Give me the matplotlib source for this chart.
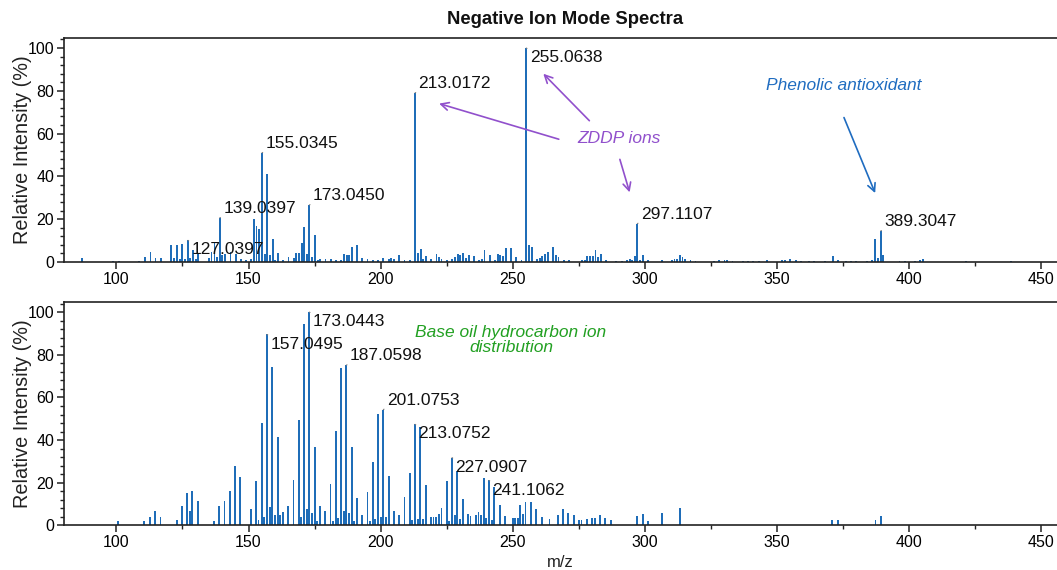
import numpy as np
import matplotlib
matplotlib.use("Agg")
import matplotlib.pyplot as plt
from matplotlib.ticker import MultipleLocator

# --- dati ---
top_mz = [87.0, 98.7, 100.9, 108.7, 110.8, 112.9, 114.8, 116.8, 120.8, 121.9,
          122.8, 124.0, 124.9, 126.0, 127.1, 128.0, 129.0, 130.0, 131.0, 135.0,
          136.0, 137.1, 138.1, 139.1, 140.1, 141.1, 143.2, 145.2, 147.1, 149.0,
          151.0, 152.2, 153.0, 154.0, 155.1, 156.1, 157.1, 158.1, 159.1, 160.1,
          161.1, 163.2, 165.1, 167.1, 168.1, 169.1, 170.1, 171.1, 172.2, 173.0,
          174.0, 175.2, 176.2, 177.1, 179.1, 181.1, 183.2, 185.1, 186.1, 187.1,
          188.0, 189.0, 191.0, 193.0, 195.0, 197.1, 199.0, 201.0, 203.0, 204.0,
          205.1, 207.0, 209.0, 211.0, 213.0, 214.0, 215.1, 216.1, 217.1, 219.1,
          221.1, 222.2, 223.0, 225.0, 227.0, 228.0, 229.1, 230.1, 231.2, 232.3,
          233.4, 235.4, 237.3, 238.3, 239.3, 241.3, 243.3, 244.3, 245.3, 246.3,
          247.4, 249.2, 251.3, 253.3, 255.1, 256.2, 257.2, 259.2, 260.2, 261.2,
          262.2, 263.2, 265.3, 266.3, 267.3, 269.3, 271.3, 276.2, 277.2, 278.2,
          279.3, 280.3, 281.3, 282.3, 283.3, 285.2, 289.2, 291.2, 293.3, 294.3,
          295.1, 296.2, 297.1, 298.2, 299.2, 301.2, 306.6, 310.2, 311.2, 312.2,
          313.2, 314.2, 315.2, 317.2, 319.1, 326.0, 328.0, 330.1, 331.1, 333.1,
          337.0, 339.0, 341.0, 343.0, 346.1, 352.0, 353.0, 355.0, 357.0, 359.0,
          362.0, 364.0, 368.0, 371.0, 373.0, 376.1, 378.0, 380.0, 383.9, 385.9,
          387.1, 388.1, 389.2, 390.2, 396.3, 398.3, 402.3, 404.2, 405.2, 421.6,
          438.6]
top_int = [2.0, 0.5, 0.6, 0.6, 2.3, 4.7, 1.9, 1.9, 7.8, 2.0,
           8.1, 1.2, 8.6, 1.5, 10.1, 2.0, 5.8, 1.5, 3.6, 2.0,
           4.7, 9.3, 2.3, 20.6, 3.1, 3.9, 4.7, 3.9, 1.6, 1.1,
           1.6, 20.2, 16.7, 15.3, 51.0, 3.9, 41.0, 3.1, 10.9, 1.1,
           4.4, 1.1, 2.3, 2.0, 4.0, 4.0, 8.9, 16.4, 3.9, 26.6,
           2.3, 12.8, 1.1, 1.6, 1.6, 1.6, 1.1, 1.1, 3.6, 3.1,
           3.4, 7.0, 8.1, 2.0, 1.2, 0.9, 0.8, 2.0, 1.6, 2.0,
           1.2, 3.4, 1.1, 1.1, 79.0, 4.2, 6.2, 1.6, 2.6, 1.6,
           3.9, 2.3, 1.6, 1.1, 1.6, 2.3, 3.9, 3.1, 4.2, 2.0,
           3.1, 2.6, 1.1, 1.6, 5.8, 3.1, 0.8, 3.9, 3.1, 2.6,
           6.7, 6.7, 2.3, 1.1, 100.0, 8.1, 7.0, 1.6, 2.0, 2.6,
           3.6, 4.7, 7.0, 3.1, 2.3, 1.1, 0.8, 0.8, 0.8, 2.6,
           2.6, 2.6, 5.8, 2.3, 3.9, 1.1, 0.5, 0.5, 0.8, 1.6,
           1.1, 2.6, 17.9, 1.1, 3.1, 1.1, 1.1, 0.8, 1.6, 1.6,
           3.1, 2.3, 1.6, 0.8, 0.5, 0.5, 0.8, 1.1, 1.1, 0.5,
           0.5, 0.5, 0.5, 0.5, 0.8, 0.8, 0.8, 1.4, 0.8, 0.6,
           0.6, 0.6, 0.6, 2.6, 1.1, 0.5, 0.6, 0.6, 0.6, 1.1,
           10.9, 2.0, 14.5, 3.1, 0.5, 0.3, 0.6, 0.9, 1.2, 0.4,
           0.4]

bot_mz = [100.6, 110.6, 112.6, 114.6, 116.7, 122.8, 124.8, 126.8, 127.7, 128.7,
          130.8, 136.8, 138.8, 140.9, 142.9, 144.9, 146.9, 151.0, 152.9, 153.8,
          155.0, 156.0, 157.0, 158.0, 159.0, 160.0, 161.0, 162.0, 163.0, 165.0,
          167.0, 169.0, 170.0, 171.0, 172.0, 173.0, 174.0, 175.0, 176.0, 177.0,
          179.0, 181.0, 182.0, 183.0, 184.0, 185.0, 186.0, 187.0, 188.0, 189.0,
          190.0, 191.0, 193.0, 195.0, 196.0, 197.0, 198.0, 199.0, 200.0, 201.0,
          202.0, 203.0, 205.0, 207.0, 209.0, 211.0, 212.0, 213.0, 214.0, 215.0,
          216.0, 217.0, 219.0, 220.0, 221.0, 222.0, 223.0, 225.0, 226.0, 227.0,
          228.0, 229.0, 230.0, 231.0, 233.0, 234.0, 236.0, 237.0, 238.0, 239.0,
          240.0, 241.0, 242.0, 243.0, 245.0, 247.0, 250.0, 250.8, 251.8, 252.8,
          253.8, 254.8, 256.8, 258.9, 261.0, 263.9, 267.0, 269.0, 271.0, 273.0,
          275.0, 276.0, 278.0, 280.0, 281.0, 283.0, 285.0, 287.0, 297.1, 299.1,
          301.2, 306.5, 313.1, 370.9, 373.0, 387.2, 389.2]
bot_int = [2.3, 2.3, 4.2, 6.7, 4.2, 2.7, 9.2, 15.3, 7.0, 16.0,
           11.7, 2.3, 9.2, 11.4, 16.0, 27.7, 22.7, 7.5, 20.7, 2.7,
           48.0, 3.9, 89.5, 8.6, 74.3, 5.0, 41.5, 5.0, 6.3, 8.9,
           21.4, 49.3, 3.9, 94.4, 7.8, 100.0, 5.8, 37.0, 2.0, 9.2,
           6.7, 19.6, 1.9, 44.1, 3.4, 73.6, 6.7, 75.1, 5.8, 36.8,
           2.3, 13.0, 4.7, 15.6, 2.0, 29.7, 3.0, 52.1, 3.9, 54.3,
           4.2, 23.0, 7.0, 4.7, 13.3, 24.6, 2.7, 47.4, 3.0, 46.2,
           3.0, 18.8, 4.2, 4.2, 4.2, 5.5, 8.3, 20.7, 2.0, 31.8,
           4.7, 25.5, 3.0, 12.5, 5.2, 4.4, 4.7, 6.3, 4.7, 22.4,
           3.6, 21.1, 2.5, 18.2, 9.4, 4.4, 3.6, 3.6, 3.6, 9.4,
           5.2, 11.0, 11.0, 7.5, 4.0, 3.1, 5.0, 7.8, 5.9, 4.7,
           2.5, 2.5, 3.1, 3.4, 3.6, 4.7, 3.6, 2.8, 4.5, 5.3,
           2.2, 5.9, 8.2, 2.5, 2.5, 2.8, 4.4]

top_label_mz = [127.1, 139.1, 155.1, 173.0, 213.0, 255.1, 297.1, 389.2]
top_label_txt = ["127.0397", "139.0397", "155.0345", "173.0450",
                 "213.0172", "255.0638", "297.1107", "389.3047"]
bot_label_mz = [157.0, 173.0, 187.0, 201.0, 213.0, 227.0, 241.0]
bot_label_txt = ["157.0495", "173.0443", "187.0598", "201.0753",
                 "213.0752", "227.0907", "241.1062"]

# posizione verticale delle etichette (sopra/sotto la cima del picco)
top_label_va = ["top", "bottom", "bottom", "bottom", "bottom", "top", "bottom", "bottom"]
bot_label_va = ["top", "top", "bottom", "bottom", "top", "top", "top"]

# --- stile ---
BLUE = "#1f6db8"
PURPLE = "#9150cc"
TXT_BLUE = "#1f6cc0"
GREEN = "#22a022"

plt.rcParams.update({
    "font.family": ["Liberation Sans", "DejaVu Sans"],
    "axes.linewidth": 1.2,
    "axes.edgecolor": "#222222",
})

fig = plt.figure(figsize=(10.57, 5.70), dpi=100)
ax1 = fig.add_axes([0.0606, 0.5404, 0.9444, 0.393])
ax2 = fig.add_axes([0.0606, 0.0781, 0.9444, 0.392])


def draw_panel(ax, mz, inten, lab_mz, lab_txt, lab_va):
    ax.bar(mz, inten, width=0.7, color=BLUE, linewidth=0)
    heights = dict(zip(mz, inten))
    for m, t, va in zip(lab_mz, lab_txt, lab_va):
        h = heights[m]
        dy = 1.5 if va == "bottom" else -1.5
        ax.annotate(t, xy=(m, h), xytext=(2.5, dy), textcoords="offset points",
                    ha="left", va=va, fontsize=12.5, color="#111111",
                    arrowprops=dict(arrowstyle="-", color="0.5", lw=0.8,
                                    shrinkA=0, shrinkB=0,
                                    relpos=(0, 0) if va == "bottom" else (0, 1)))
    ax.set_xlim(80.2, 457.9)
    ax.set_ylim(0, 104.7)
    ax.xaxis.set_major_locator(MultipleLocator(50))
    ax.xaxis.set_minor_locator(MultipleLocator(25))
    ax.yaxis.set_major_locator(MultipleLocator(20))
    ax.yaxis.set_minor_locator(MultipleLocator(4))
    ax.tick_params(which="major", direction="out", length=5, width=1.1,
                   labelsize=11.5, pad=2, color="#222222")
    ax.tick_params(which="minor", direction="out", length=3, width=1.0, color="#222222")
    ax.set_ylabel("Relative Intensity (%)", fontsize=14.3, color="#222222")
    ax.yaxis.set_label_coords(-0.032, 0.5)


draw_panel(ax1, top_mz, top_int, top_label_mz, top_label_txt, top_label_va)
draw_panel(ax2, bot_mz, bot_int, bot_label_mz, bot_label_txt, bot_label_va)

# --- annotazioni pannello superiore ---
ax1.text(290.1, 57.5, "ZDDP ions", color=PURPLE, fontsize=12.5, style="italic",
         ha="center", va="center")
zddp_arrow = dict(arrowstyle="->", color=PURPLE, lw=1.2, mutation_scale=14)
ax1.annotate("", xy=(221.1, 74.4), xytext=(268.4, 57.0), arrowprops=zddp_arrow)
ax1.annotate("", xy=(260.8, 88.9), xytext=(279.7, 65.1), arrowprops=zddp_arrow)
ax1.annotate("", xy=(294.5, 31.3), xytext=(290.2, 49.2), arrowprops=zddp_arrow)

ax1.text(375.1, 82.7, "Phenolic antioxidant", color=TXT_BLUE, fontsize=12.5,
         style="italic", ha="center", va="center")
ax1.annotate("", xy=(387.5, 31.0), xytext=(374.9, 68.7),
             arrowprops=dict(arrowstyle="->", color=TXT_BLUE, lw=1.2, mutation_scale=14))

# --- annotazione pannello inferiore ---
ax2.text(249.3, 87.0, "Base oil hydrocarbon ion\ndistribution", color=GREEN,
         fontsize=12.5, style="italic", ha="center", va="center",
         multialignment="center", linespacing=1.0)

fig.text(0.535, 0.965, "Negative Ion Mode Spectra", ha="center", va="center",
         fontsize=13.3, fontweight="bold", color="#111111")
fig.text(0.53, 0.0135, "m/z", ha="center", va="center", fontsize=12, color="#222222")

fig.savefig("out.png", dpi=100, facecolor="white")
